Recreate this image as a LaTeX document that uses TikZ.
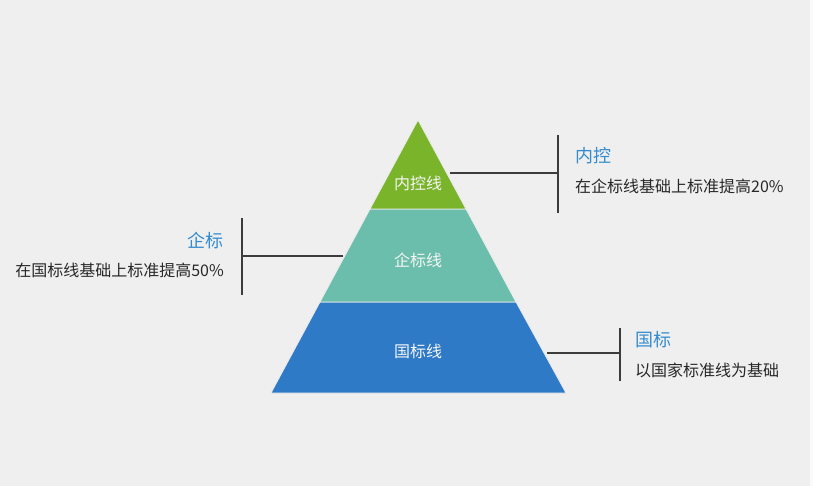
\documentclass[tikz,border=0pt]{standalone}
\usepackage{fontspec}
\newfontfamily\cjk{Noto Sans CJK SC}
\definecolor{bgc}{RGB}{240,239,240}
\definecolor{gtop}{RGB}{122,180,42}
\definecolor{gmid}{RGB}{108,190,172}
\definecolor{gbot}{RGB}{46,122,198}
\definecolor{ttl}{RGB}{52,140,206}
\definecolor{dsc}{RGB}{40,40,40}
\definecolor{lnc}{RGB}{60,60,60}
\tikzset{
  band/.style={draw=white!85!gray, line width=0.8pt},
  bandtxt/.style={font=\cjk\fontsize{16}{16}\selectfont, text=white!92!gray, inner sep=0pt},
  ttltxt/.style={font=\cjk\fontsize{18}{18}\selectfont, text=ttl, inner sep=0pt},
  dsctxt/.style={font=\cjk\fontsize{16}{16}\selectfont, text=dsc, inner sep=0pt},
  conn/.style={draw=lnc, line width=1.1pt}
}
\begin{document}
\begin{tikzpicture}[x=1pt,y=-1pt]
\fill[bgc] (0,0) rectangle (813,486);
\fill[white!70!bgc] (810,0) rectangle (813,486);
\useasboundingbox (0,0) rectangle (813,486);
% pyramid geometry: apex (418,120), base y=393, half width 147.5
\coordinate (apex) at (418,120);
\coordinate (bl) at (271,393);
\coordinate (br) at (566,393);
\coordinate (l1) at (370,209);
\coordinate (r1) at (466,209);
\coordinate (l2) at (320,302);
\coordinate (r2) at (516,302);
\filldraw[band, fill=gbot] (l2) -- (r2) -- (br) -- (bl) -- cycle;
\filldraw[band, fill=gmid] (l1) -- (r1) -- (r2) -- (l2) -- cycle;
\filldraw[band, fill=gtop] (apex) -- (r1) -- (l1) -- cycle;
\node[bandtxt] (t1) at (418,183) {内控线};
\node[bandtxt] (t2) at (418,260) {企标线};
\node[bandtxt] (t3) at (418,351) {国标线};
% connector ends on pyramid edges
\coordinate (e1) at (450,173);
\coordinate (e2) at (343,256);
\coordinate (e3) at (547,353);
% bars
\coordinate (b1t) at (558,135);
\coordinate (b1b) at (558,213);
\coordinate (b1m) at (558,173);
\coordinate (b2t) at (242,218);
\coordinate (b2b) at (242,295);
\coordinate (b2m) at (242,256);
\coordinate (b3t) at (620,328);
\coordinate (b3b) at (620,381);
\coordinate (b3m) at (620,353);
\draw[conn] (e1) -- (b1m);
\draw[conn] (b1t) -- (b1b);
\draw[conn] (e2) -- (b2m);
\draw[conn] (b2t) -- (b2b);
\draw[conn] (e3) -- (b3m);
\draw[conn] (b3t) -- (b3b);
% labels
\node[ttltxt, anchor=west] (h1) at (575,156) {内控};
\node[dsctxt, anchor=west] (d1) at (575,186) {在企标线基础上标准提高20\%};
\node[ttltxt, anchor=east] (h2) at (224,241) {企标};
\node[dsctxt, anchor=east] (d2) at (224,270) {在国标线基础上标准提高50\%};
\node[ttltxt, anchor=west] (h3) at (635,340) {国标};
\node[dsctxt, anchor=west] (d3) at (635,370) {以国家标准线为基础};
\end{tikzpicture}
\end{document}
